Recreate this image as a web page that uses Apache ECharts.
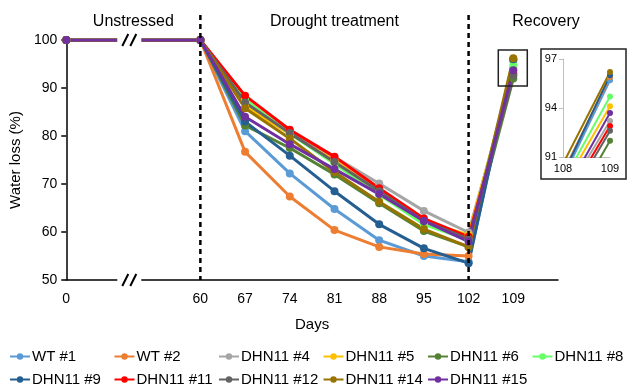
<!DOCTYPE html>
<html>
<head>
<meta charset="utf-8">
<script src="https://cdn.jsdelivr.net/npm/echarts@6/dist/echarts.min.js"></script>
<style>
  html, body { margin: 0; padding: 0; background: #fff; }
  #chart { width: 630px; height: 392px; }
</style>
</head>
<body>
<div id="chart"></div>
<script>
// x axis slots (blank slots hold the gap between day 0 and day 60, and the tail after 109)
const xLabels = ["0", "", "", "60", "67", "74", "81", "88", "95", "102", "109", ""];
const days = [0, 60, 67, 74, 81, 88, 95, 102, 109];

const names = ["WT #1", "WT #2", "DHN11 #4", "DHN11 #5", "DHN11 #6", "DHN11 #8",
  "DHN11 #9", "DHN11 #11", "DHN11 #12", "DHN11 #14", "DHN11 #15"];
const colorsList = ["#5B9BD5", "#ED7D31", "#A5A5A5", "#FFC000", "#548235", "#66FF66",
  "#255E91", "#FF0000", "#636363", "#997300", "#7030A0"];

const wt1 = [100, 100, 81.0, 72.2, 64.8, 58.3, 55.0, 53.8, 95.7];
const wt2 = [100, 100, 76.7, 67.4, 60.4, 56.9, 55.4, 55.0, 95.9];
const dhn4 = [100, 100, 87.0, 81.0, 75.6, 70.1, 64.4, 59.9, 93.2];
const dhn5 = [100, 100, 86.2, 80.4, 74.9, 68.6, 62.2, 59.4, 94.1];
const dhn6 = [100, 100, 82.2, 77.5, 72.0, 66.0, 60.2, 56.9, 92.0];
const dhn8 = [100, 100, 87.6, 80.5, 74.2, 67.8, 61.6, 58.3, 94.7];
const dhn9 = [100, 100, 83.0, 75.9, 68.5, 61.6, 56.6, 53.5, 96.0];
const dhn11 = [100, 100, 88.4, 81.3, 75.7, 69.1, 62.8, 59.0, 92.9];
const dhn12 = [100, 100, 87.0, 80.6, 74.6, 68.5, 62.3, 58.5, 92.6];
const dhn14 = [100, 100, 85.8, 79.5, 72.5, 66.3, 60.6, 56.9, 96.2];
const dhn15 = [100, 100, 84.0, 78.3, 73.1, 67.9, 62.3, 58.0, 93.7];
const allValues = [wt1, wt2, dhn4, dhn5, dhn6, dhn8, dhn9, dhn11, dhn12, dhn14, dhn15];

const font = "'Liberation Sans', Arial, sans-serif";

const toSlots = (vals) => {
  const out = xLabels.map(() => null);
  days.forEach((d, i) => { out[xLabels.indexOf(String(d))] = vals[i]; });
  return out;
};

const mainSeries = allValues.map((vals, i) => ({
  name: names[i],
  type: "line",
  xAxisIndex: 0,
  yAxisIndex: 0,
  data: toSlots(vals),
  connectNulls: true,
  color: colorsList[i],
  symbol: "circle",
  symbolSize: 8,
  lineStyle: { width: 3 },
  emphasis: { disabled: true }
}));

// inset: zoom on the last segment (102 -> 109), clipped to 108..109 / 91..97
const insetSeries = allValues.map((vals, i) => ({
  name: names[i],
  type: "line",
  xAxisIndex: 1,
  yAxisIndex: 1,
  data: [[102, vals[7]], [109, vals[8]]],
  clip: true,
  color: colorsList[i],
  symbol: "circle",
  symbolSize: 6,
  lineStyle: { width: 2 },
  emphasis: { disabled: true }
}));

// one legend per entry so the two rows line up in fixed columns
const legends = names.map((name, i) => ({
  data: [name],
  left: 9 + (i % 6) * 104.5,
  top: i < 6 ? 349 : 372,
  padding: 0,
  itemWidth: 20,
  itemHeight: 8,
  itemGap: 0,
  textStyle: { fontFamily: font, fontSize: 15, color: "#000", padding: [0, 0, 0, -3] }
}));

const chart = echarts.init(document.getElementById("chart"));
chart.setOption({
  animation: false,
  grid: [
    { left: 66, right: 72, top: 40, bottom: 112 },
    { left: 563, right: 20, top: 59, bottom: 235 }
  ],
  legend: legends,
  xAxis: [
    {
      type: "category",
      gridIndex: 0,
      data: xLabels,
      boundaryGap: false,
      name: "Days",
      nameLocation: "middle",
      nameGap: 37,
      nameTextStyle: { fontFamily: font, fontSize: 15, color: "#000" },
      axisLine: { lineStyle: { color: "#000", width: 1.5 } },
      axisTick: { show: false },
      axisLabel: { interval: 0, fontFamily: font, fontSize: 14, color: "#000", margin: 12 },
      splitLine: { show: false }
    },
    {
      type: "value",
      gridIndex: 1,
      min: 108,
      max: 109,
      interval: 1,
      axisLine: { lineStyle: { color: "#BFBFBF", width: 1 } },
      axisTick: { show: false },
      axisLabel: { fontFamily: font, fontSize: 11, color: "#000", margin: 6 },
      splitLine: { show: false }
    }
  ],
  yAxis: [
    {
      type: "value",
      gridIndex: 0,
      min: 50,
      max: 100,
      interval: 10,
      name: "Water loss (%)",
      nameLocation: "middle",
      nameGap: 40,
      nameTextStyle: { fontFamily: font, fontSize: 15, color: "#000" },
      axisLine: { show: true, lineStyle: { color: "#000", width: 1.5 } },
      axisTick: { show: true, length: 5, lineStyle: { color: "#000", width: 1.5 } },
      axisLabel: { fontFamily: font, fontSize: 14, color: "#000", margin: 9 },
      splitLine: { show: false }
    },
    {
      type: "value",
      gridIndex: 1,
      min: 91,
      max: 97,
      interval: 3,
      axisLine: { show: true, lineStyle: { color: "#BFBFBF", width: 1 } },
      axisTick: { show: true, length: 4, lineStyle: { color: "#BFBFBF" } },
      axisLabel: { fontFamily: font, fontSize: 11, color: "#000", margin: 6 },
      splitLine: { show: false }
    }
  ],
  series: mainSeries.concat(insetSeries)
});

// decorations placed from the axes' own scales
const px = (slot, v) => chart.convertToPixel({ xAxisIndex: 0, yAxisIndex: 0 }, [slot, v]);
const slotOf = (d) => xLabels.indexOf(String(d));
const p0 = px(slotOf(0), 100);
const p60 = px(slotOf(60), 100);
const p102 = px(slotOf(102), 50);
const p109 = px(slotOf(109), 97.9);
const p109b = px(slotOf(109), 90.4);
const axisY = px(0, 50)[1];
const breakX = p0[0] + 0.47 * (p60[0] - p0[0]);

const breakMark = (x, y) => [
  { type: "rect", z: 100, shape: { x: x - 12, y: y - 6, width: 24, height: 12 }, style: { fill: "#fff" } },
  { type: "line", z: 101, shape: { x1: x - 7, y1: y + 6, x2: x - 1, y2: y - 6 }, style: { stroke: "#000", lineWidth: 2 } },
  { type: "line", z: 101, shape: { x1: x + 1, y1: y + 6, x2: x + 7, y2: y - 6 }, style: { stroke: "#000", lineWidth: 2 } }
];

const dashed = (x) => ({
  type: "line", z: 50,
  shape: { x1: x, y1: 15, x2: x, y2: axisY },
  style: { stroke: "#000", lineWidth: 2.5, lineDash: [5, 4] }
});

const label = (x, text) => ({
  type: "text", z: 50, x: x, y: 22,
  style: { text: text, fontFamily: font, fontSize: 16, fill: "#000", align: "center", verticalAlign: "middle" }
});

chart.setOption({
  graphic: [
    ...breakMark(breakX, p0[1]),
    ...breakMark(breakX, axisY),
    dashed(p60[0]),
    dashed(p102[0]),
    label((p0[0] + p60[0]) / 2, "Unstressed"),
    label((p60[0] + p102[0]) / 2, "Drought treatment"),
    label(546, "Recovery"),
    {
      type: "rect", z: 60,
      shape: { x: p109[0] - 15, y: p109[1], width: 29, height: p109b[1] - p109[1] },
      style: { fill: "none", stroke: "#222", lineWidth: 1.5 }
    },
    {
      type: "rect", z: 60,
      shape: { x: 541, y: 49, width: 85, height: 130 },
      style: { fill: "none", stroke: "#222", lineWidth: 1.5 }
    }
  ]
});
</script>
</body>
</html>
